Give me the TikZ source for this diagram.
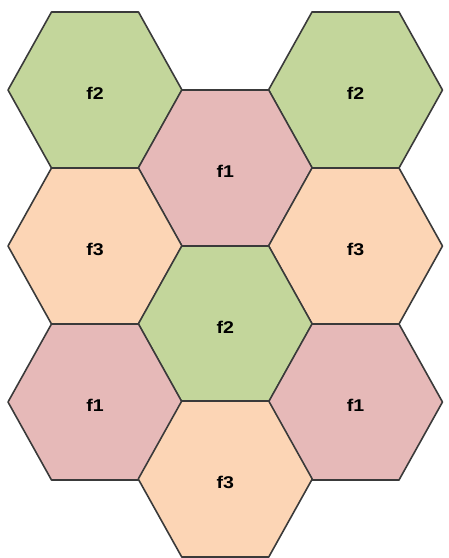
\documentclass[tikz,border=0pt]{standalone}
\usepackage{fontspec}
\setmainfont{Liberation Sans}
\definecolor{hgreen}{HTML}{C3D69B}
\definecolor{hpink}{HTML}{E6B9B8}
\definecolor{hpeach}{HTML}{FCD5B5}
\definecolor{hline}{HTML}{3A3A3A}
\tikzset{
  hexline/.style={draw=hline, line width=1.6pt, line join=round},
  lbl/.style={font=\fontsize{17}{19}\selectfont\bfseries, text=black, inner sep=0pt, xscale=1.15}
}
\newcommand\hexcell[5]{%
  \filldraw[hexline, fill=#3] (#1,#2) +(-87,0) -- +(-43.5,-78) -- +(43.5,-78) -- +(87,0) -- +(43.5,78) -- +(-43.5,78) -- cycle;
  \node[lbl] (#5) at (#1,#2+3) {#4};
}
\begin{document}
\begin{tikzpicture}[x=1pt,y=-1pt]
\useasboundingbox (0,0) rectangle (449,558);
\hexcell{95}{90}{hgreen}{f2}{a1}
\hexcell{355.5}{90}{hgreen}{f2}{c1}
\hexcell{225.25}{168}{hpink}{f1}{b1}
\hexcell{95}{246}{hpeach}{f3}{a2}
\hexcell{355.5}{246}{hpeach}{f3}{c2}
\hexcell{225.25}{324}{hgreen}{f2}{b2}
\hexcell{95}{402}{hpink}{f1}{a3}
\hexcell{355.5}{402}{hpink}{f1}{c3}
\hexcell{225.25}{479}{hpeach}{f3}{b3}
\end{tikzpicture}
\end{document}
